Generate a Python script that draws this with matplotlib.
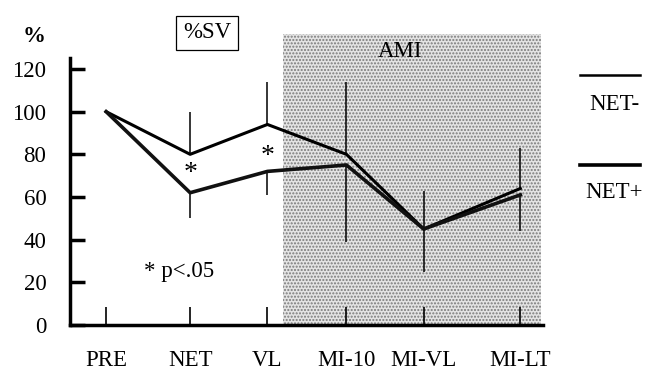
import numpy as np
import matplotlib
matplotlib.use('Agg')
import matplotlib.pyplot as plt
from matplotlib.lines import Line2D

plt.rcParams['font.family'] = ['Liberation Serif', 'DejaVu Serif']
plt.rcParams['hatch.linewidth'] = 1.0

# categories and their (uneven) positions on the time axis
labels = ['PRE', 'NET', 'VL', 'MI-10', 'MI-VL', 'MI-LT']
xpos = [0, 1, 1.92, 2.86, 3.78, 4.93]

# %SV for both groups
net_minus = [100, 80, 94, 80, 45, 64]
net_plus = [100, 62, 72, 75, 45, 61]
# one-sided SD bars (up for NET-, down for NET+), PRE has none
sd_minus = [0, 20, 20, 34, 18, 19]
sd_plus = [0, 12, 11, 36, 20, 17]

yticks = [0, 20, 40, 60, 80, 100, 120]
fs = 16.5

fig = plt.figure(figsize=(6.48, 3.70), dpi=100)
ax = fig.add_axes([70/648, 1-325/370, (543-70)/648, (325-34)/370])

# AMI shaded block
ax.axvspan(2.11, 5.18, facecolor='#e4e4e4', hatch='.....', edgecolor='#7a7a7a', linewidth=0)
ax.text(3.5, 128, 'AMI', ha='center', va='center', fontsize=fs)

# error bars
for i in range(1, len(xpos)):
    ax.vlines(xpos[i], net_minus[i], net_minus[i] + sd_minus[i], color='black', lw=1.1)
    ax.vlines(xpos[i], net_plus[i] - sd_plus[i], net_plus[i], color='black', lw=1.1)

ax.plot(xpos, net_minus, color='black', lw=2.2)
ax.plot(xpos, net_plus, color='#111111', lw=2.6)

ax.text(1.0, 71, '*', ha='center', va='center', fontsize=20)
ax.text(1.92, 79, '*', ha='center', va='center', fontsize=20)
ax.text(0.45, 25, '* p<.05', ha='left', va='center', fontsize=fs)

ax.set_xlim(-0.43, 5.2)
ax.set_ylim(0, 136.4)
ax.set_xticks(xpos)
ax.set_xticklabels(labels, fontsize=fs)
ax.set_yticks(yticks)
ax.set_yticklabels([str(v) for v in yticks], fontsize=fs)
ax.tick_params(axis='y', direction='in', length=11, width=2.5, pad=17)
ax.tick_params(axis='x', direction='in', length=13, width=1.2, pad=18)

for s in ['top', 'right']:
    ax.spines[s].set_visible(False)
ax.spines['left'].set_linewidth(2.5)
ax.spines['bottom'].set_linewidth(2.5)
ax.spines['left'].set_bounds(0, 125)
ax.patch.set_alpha(0)

fig.text(34/648, 1-37/370, '%', ha='center', va='center', fontsize=fs, fontweight='bold')
fig.text(207/648, 1-33/370, '%SV', ha='center', va='center', fontsize=fs,
         bbox=dict(boxstyle='square,pad=0.3', facecolor='white', edgecolor='black', lw=0.9))

# legend drawn by hand at right
fig.add_artist(Line2D([580/648, 640/648], [1-75/370, 1-75/370], color='black', lw=1.8))
fig.add_artist(Line2D([580/648, 640/648], [1-165/370, 1-165/370], color='black', lw=2.6))
fig.text(614/648, 1-104/370, 'NET-', ha='center', va='center', fontsize=fs)
fig.text(614/648, 1-193/370, 'NET+', ha='center', va='center', fontsize=fs)

fig.savefig('out.png', dpi=100)
